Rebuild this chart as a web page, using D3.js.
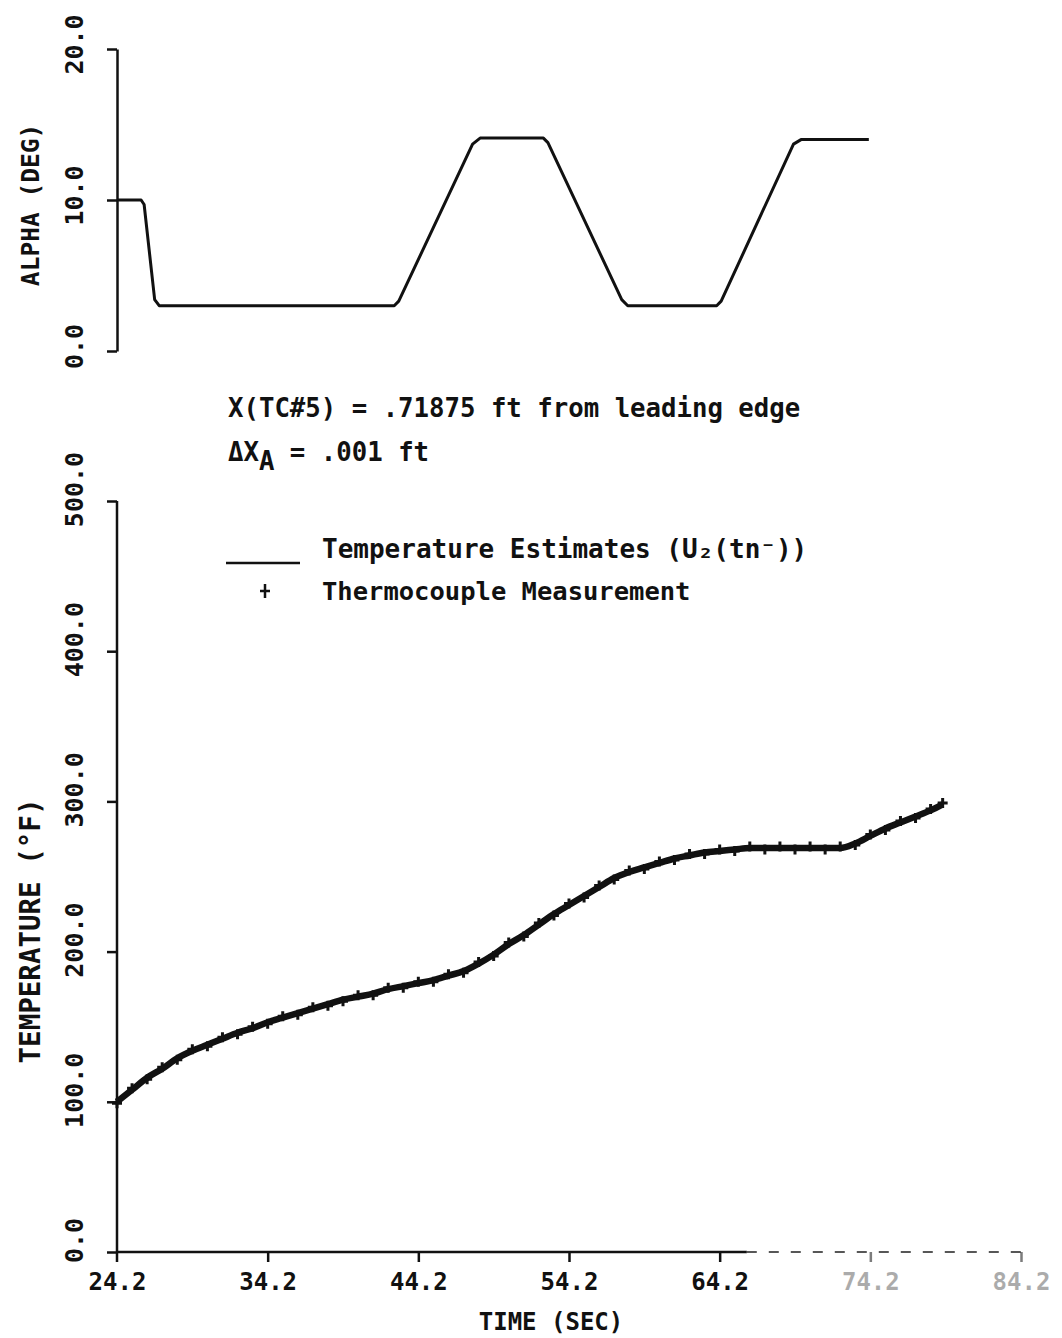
<!DOCTYPE html>
<html>
<head>
<meta charset="utf-8">
<script src="https://cdn.jsdelivr.net/npm/d3@7"></script>
<style>
  html, body { margin: 0; padding: 0; background: #fff; }
  svg { display: block; }
  text { font-family: "DejaVu Sans Mono", "Liberation Mono", monospace; font-weight: bold; fill: #111; }
</style>
</head>
<body>
<script>
// ---------- DATA ----------
const xTicks = [24.2, 34.2, 44.2, 54.2, 64.2, 74.2, 84.2];
const alphaTicks = [0, 10, 20];
const tempTicks = [0, 100, 200, 300, 400, 500];

// Angle of attack history (deg)
const alphaTime = [24.2, 25.8, 26.0, 26.7, 27.0, 42.6, 42.9, 47.8, 48.3, 52.5, 52.8, 57.7, 58.1, 64.0, 64.3, 69.1, 69.6, 74.1];
const alphaVal  = [10.0, 10.0, 9.7, 3.4, 3.0, 3.0, 3.3, 13.7, 14.1, 14.1, 13.8, 3.4, 3.0, 3.0, 3.3, 13.7, 14.0, 14.0];

// Temperature estimates U2(tn-) (deg F)
const estTime = [24.2,25.2,26.2,27.2,28.2,29.2,30.2,31.2,32.2,33.2,34.2,35.2,36.2,37.2,38.2,39.2,40.2,41.2,42.2,43.2,44.2,45.2,46.2,47.2,48.2,49.2,50.2,51.2,52.2,53.2,54.2,55.2,56.2,57.2,58.2,59.2,60.2,61.2,62.2,63.2,64.2,65.2,66.2,67.2,68.2,69.2,70.2,71.2,72.2,73.2,74.2,75.2,76.2,77.2,78.2,79.0];
const estTemp = [100,108,116,122,129,134,138,142,146,149,153,156,159,162,165,168,170,172,175,177,179,181,184,187,192,198,205,211,218,225,231,237,243,249,253,256,259,262,264,266,267,268,269,269,269,269,269,269,269,272,277,282,286,290,294,298];

// Thermocouple measurements (deg F)
const measTime = [24.2,25.2,26.2,27.2,28.2,29.2,30.2,31.2,32.2,33.2,34.2,35.2,36.2,37.2,38.2,39.2,40.2,41.2,42.2,43.2,44.2,45.2,46.2,47.2,48.2,49.2,50.2,51.2,52.2,53.2,54.2,55.2,56.2,57.2,58.2,59.2,60.2,61.2,62.2,63.2,64.2,65.2,66.2,67.2,68.2,69.2,70.2,71.2,72.2,73.2,74.2,75.2,76.2,77.2,78.2,79.0];
const measTemp = [99,109,115,123,128,135,137,143,145,150,152,157,158,163,164,167,171,171,176,176,180,180,185,186,193,197,206,210,219,224,232,236,244,248,254,255,260,261,265,265,268,267,270,268,270,268,270,268,270,271,278,281,287,289,295,299];

const noteLine1 = "X(TC#5) = .71875 ft from leading edge";
const legendEst = "Temperature Estimates (U\u2082(tn\u207B))";
const legendMeas = "Thermocouple Measurement";

// ---------- DRAW ----------
const W = 1062, H = 1338;
const svg = d3.select("body").append("svg").attr("width", W).attr("height", H);
svg.append("rect").attr("width", W).attr("height", H).attr("fill", "#fff");

const ink = "#111";
const x = d3.scaleLinear().domain([24.2, 84.2]).range([117, 1021]);
const yA = d3.scaleLinear().domain([0, 20]).range([351, 49]);
const yT = d3.scaleLinear().domain([0, 500]).range([1252, 501]);

function styleAxis(g) {
  g.selectAll("path, line").attr("stroke", ink).attr("stroke-width", 2.5);
}

// Top panel: alpha axis
const gA = svg.append("g").attr("transform", `translate(${x(24.2)},0)`)
  .call(d3.axisLeft(yA).tickValues(alphaTicks).tickSize(10).tickSizeOuter(0).tickFormat(d3.format(".1f")));
styleAxis(gA);
gA.selectAll(".tick text")
  .attr("x", null).attr("dy", null)
  .attr("transform", "translate(-43,-5) rotate(-90)")
  .attr("text-anchor", "middle").attr("dominant-baseline", "central")
  .style("font-size", "25px").attr("fill", ink);

svg.append("text").attr("transform", `translate(30,${205}) rotate(-90)`)
  .attr("text-anchor", "middle").attr("dominant-baseline", "central")
  .style("font-size", "24.5px").text("ALPHA (DEG)");

const alphaData = alphaTime.map((t, i) => [t, alphaVal[i]]);
svg.append("path").datum(alphaData)
  .attr("fill", "none").attr("stroke", ink).attr("stroke-width", 3).attr("stroke-linejoin", "round")
  .attr("d", d3.line().x(d => x(d[0])).y(d => yA(d[1])));

// Notes
svg.append("text").attr("x", 228).attr("y", 417).style("font-size", "25.7px").text(noteLine1);
const n2 = svg.append("text").attr("x", 228).attr("y", 461).style("font-size", "25.7px");
n2.append("tspan").text("\u0394X");
n2.append("tspan").attr("dy", 9).text("A");
n2.append("tspan").attr("dy", -9).text(" = .001 ft");

// Legend
svg.append("line").attr("x1", 226).attr("x2", 300).attr("y1", 563).attr("y2", 563)
  .attr("stroke", ink).attr("stroke-width", 2.5);
svg.append("text").attr("x", 322).attr("y", 558).style("font-size", "26px").text(legendEst);
svg.append("path").attr("d", "M-5,0H5M0,-7V7").attr("transform", "translate(265,591)")
  .attr("stroke", ink).attr("stroke-width", 2.5);
svg.append("text").attr("x", 322).attr("y", 600).style("font-size", "25.5px").text(legendMeas);

// Bottom panel: temperature axis
const gT = svg.append("g").attr("transform", `translate(${x(24.2)},0)`)
  .call(d3.axisLeft(yT).tickValues(tempTicks).tickSize(10).tickSizeOuter(0).tickFormat(d3.format(".1f")));
styleAxis(gT);
gT.select(".domain").attr("d", `M0,${yT(500)}V${yT(0) + 10}`);
gT.selectAll(".tick text")
  .attr("x", null).attr("dy", null)
  .attr("transform", "translate(-43,-12) rotate(-90)")
  .attr("text-anchor", "middle").attr("dominant-baseline", "central")
  .style("font-size", "25px").attr("fill", ink);

svg.append("text").attr("transform", `translate(30,${931}) rotate(-90)`)
  .attr("text-anchor", "middle").attr("dominant-baseline", "central")
  .style("font-size", "27.5px").text("TEMPERATURE (\u00B0F)");

// X axis (bottom)
const gX = svg.append("g").attr("transform", `translate(0,${yT(0)})`)
  .call(d3.axisBottom(x).tickValues(xTicks).tickSize(10).tickSizeOuter(0).tickFormat(d3.format(".1f")));
gX.select(".domain").remove();
gX.selectAll(".tick line").attr("stroke", ink).attr("stroke-width", 2.5)
  .attr("opacity", d => d > 70 ? 0.55 : 1);
gX.selectAll(".tick").filter(d => d === 24.2).select("line").remove();
gX.selectAll(".tick text")
  .attr("y", 38).attr("dy", null)
  .style("font-size", "24px").attr("fill", ink)
  .attr("opacity", d => d > 70 ? 0.35 : 1);
// solid part of the time axis, then faded/dashed part as in the scan
svg.append("line").attr("x1", x(24.2)).attr("x2", x(66.0)).attr("y1", yT(0)).attr("y2", yT(0))
  .attr("stroke", ink).attr("stroke-width", 2.5);
svg.append("line").attr("x1", x(66.0)).attr("x2", x(84.2)).attr("y1", yT(0)).attr("y2", yT(0))
  .attr("stroke", ink).attr("stroke-width", 2).attr("stroke-dasharray", "10,12").attr("opacity", 0.7);

svg.append("text").attr("x", 551).attr("y", 1330).attr("text-anchor", "middle")
  .style("font-size", "24px").text("TIME (SEC)");

// Temperature estimate line
const estData = estTime.map((t, i) => [t, estTemp[i]]);
svg.append("path").datum(estData)
  .attr("fill", "none").attr("stroke", ink).attr("stroke-width", 6.5).attr("stroke-linejoin", "round")
  .attr("d", d3.line().curve(d3.curveMonotoneX).x(d => x(d[0])).y(d => yT(d[1])));

// Thermocouple measurement markers
const measData = measTime.map((t, i) => [t, measTemp[i]]);
svg.append("g").selectAll("path").data(measData).join("path")
  .attr("d", "M-5,0H5M0,-5V5")
  .attr("transform", d => `translate(${x(d[0])},${yT(d[1])})`)
  .attr("stroke", ink).attr("stroke-width", 3);
</script>
</body>
</html>
